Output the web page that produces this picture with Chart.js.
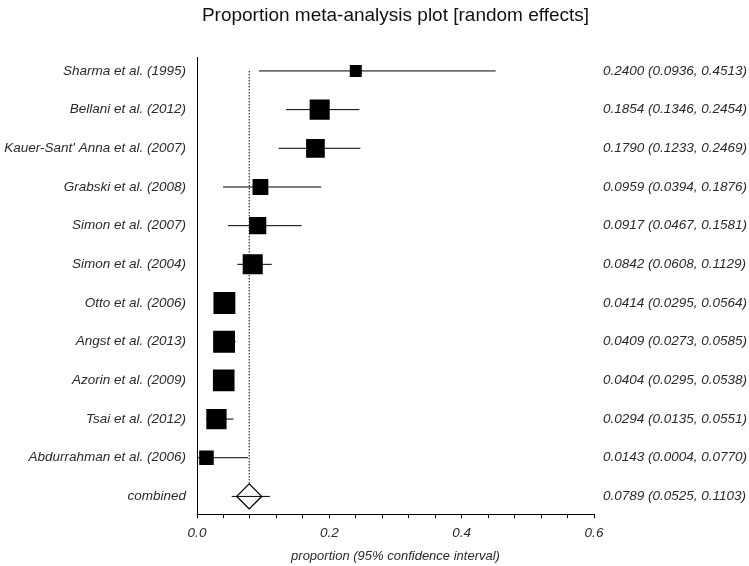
<!DOCTYPE html>
<html>
<head>
<meta charset="utf-8">
<script src="https://cdn.jsdelivr.net/npm/chart.js@4.4.1/dist/chart.umd.min.js"></script>
<style>
  html, body { margin: 0; padding: 0; background: #fff; }
  #wrap { width: 749px; height: 566px; }
</style>
</head>
<body>
<div id="wrap"><canvas id="plot" width="749" height="566"></canvas></div>
<script>
// study rows, top to bottom
const studies = [
  "Sharma et al. (1995)",
  "Bellani et al. (2012)",
  "Kauer-Sant' Anna et al. (2007)",
  "Grabski et al. (2008)",
  "Simon et al. (2007)",
  "Simon et al. (2004)",
  "Otto et al. (2006)",
  "Angst et al. (2013)",
  "Azorin et al. (2009)",
  "Tsai et al. (2012)",
  "Abdurrahman et al. (2006)"
];
const estimate = [0.2400, 0.1854, 0.1790, 0.0959, 0.0917, 0.0842, 0.0414, 0.0409, 0.0404, 0.0294, 0.0143];
const lower    = [0.0936, 0.1346, 0.1233, 0.0394, 0.0467, 0.0608, 0.0295, 0.0273, 0.0295, 0.0135, 0.0004];
const upper    = [0.4513, 0.2454, 0.2469, 0.1876, 0.1581, 0.1129, 0.0564, 0.0585, 0.0538, 0.0551, 0.0770];
// relative weights (%)
const weights  = [3.8, 10.6, 9.2, 6.6, 7.8, 10.6, 12.6, 12.6, 12.3, 10.8, 5.6];

const combinedLabel = "combined";
const combined = { est: 0.0789, lo: 0.0525, hi: 0.1103 };

const xTickValues = [0, 0.04, 0.08, 0.12, 0.16, 0.2, 0.24, 0.28, 0.32, 0.36, 0.4, 0.44, 0.48, 0.52, 0.56, 0.6];
const xMajor = [0, 0.2, 0.4, 0.6];

const rowLabels = studies.concat([combinedLabel]);
const combinedRow = studies.length;

const fmt = v => v.toFixed(4);
const rightText = estimate.map((v, i) => `${fmt(v)} (${fmt(lower[i])}, ${fmt(upper[i])})`)
  .concat([`${fmt(combined.est)} (${fmt(combined.lo)}, ${fmt(combined.hi)})`]);

const FONT = "'Liberation Sans', Arial, sans-serif";
const TEXT = "#2a2a2a";

// box side in px grows with sqrt(weight)
const boxRadius = weights.map(w => 6.16 * Math.sqrt(w) / Math.SQRT2);

const ciSets = lower.map((lo, i) => ({
  data: [{ x: lo, y: i }, { x: upper[i], y: i }],
  showLine: true,
  borderColor: "#000",
  borderWidth: 1,
  pointRadius: 0,
  order: 2
}));

// labels on the right, aligned to the y scale
const rightLabels = {
  id: "rightLabels",
  afterDraw(chart) {
    const { ctx, chartArea, scales } = chart;
    ctx.save();
    ctx.font = `italic 13.5px ${FONT}`;
    ctx.fillStyle = TEXT;
    ctx.textAlign = "left";
    ctx.textBaseline = "middle";
    rightText.forEach((t, i) => {
      ctx.fillText(t, chartArea.right + 9, scales.y.getPixelForValue(i));
    });
    ctx.restore();
  }
};

new Chart(document.getElementById("plot"), {
  type: "scatter",
  data: {
    datasets: [
      {
        data: estimate.map((v, i) => ({ x: v, y: i })),
        pointStyle: "rect",
        pointRadius: boxRadius,
        backgroundColor: "#000",
        borderWidth: 0,
        order: 0
      },
      {
        data: [{ x: combined.est, y: combinedRow }],
        pointStyle: "rectRot",
        pointRadius: 12.5,
        backgroundColor: "rgba(0,0,0,0)",
        borderColor: "#000",
        borderWidth: 1.3,
        order: 0
      },
      ...ciSets,
      {
        data: [{ x: combined.lo, y: combinedRow }, { x: combined.hi, y: combinedRow }],
        showLine: true,
        borderColor: "#000",
        borderWidth: 1,
        pointRadius: 0,
        order: 2
      },
      {
        // pooled estimate reference line, stops at the diamond's top
        data: [{ x: combined.est, y: 0 }, { x: combined.est, y: combinedRow - 0.34 }],
        showLine: true,
        borderColor: "#000",
        borderWidth: 1,
        borderDash: [1.5, 1.5],
        pointRadius: 0,
        order: 3
      }
    ]
  },
  options: {
    responsive: false,
    animation: false,
    events: [],
    layout: { padding: { left: 0, right: 155, top: 0, bottom: 0 } },
    plugins: {
      legend: { display: false },
      tooltip: { enabled: false },
      title: {
        display: true,
        fullSize: false,
        text: "Proportion meta-analysis plot [random effects]",
        color: "#111",
        font: { family: FONT, size: 19, weight: "normal" },
        padding: { top: 4, bottom: 31 }
      }
    },
    scales: {
      x: {
        type: "linear",
        min: 0,
        max: 0.6,
        afterBuildTicks: s => { s.ticks = xTickValues.map(v => ({ value: v })); },
        grid: { drawOnChartArea: false, drawTicks: true, tickLength: 4, color: "#000" },
        border: { display: true, color: "#000", width: 1 },
        ticks: {
          autoSkip: false,
          maxRotation: 0,
          padding: 7,
          color: TEXT,
          font: { family: FONT, size: 13.5, style: "italic" },
          callback: v => xMajor.some(m => Math.abs(m - v) < 1e-9) ? v.toFixed(1) : ""
        },
        title: {
          display: true,
          text: "proportion (95% confidence interval)",
          color: TEXT,
          font: { family: FONT, size: 13, style: "italic" },
          padding: { top: 0, bottom: 2 }
        }
      },
      y: {
        type: "linear",
        reverse: true,
        min: -0.34,
        max: 11.46,
        afterBuildTicks: s => { s.ticks = rowLabels.map((_, i) => ({ value: i })); },
        afterFit: s => { s.width = 197; },
        grid: { display: false, drawTicks: false },
        border: { display: true, color: "#000", width: 1 },
        ticks: {
          autoSkip: false,
          padding: 11,
          color: TEXT,
          font: { family: FONT, size: 13.5, style: "italic" },
          callback: v => rowLabels[v] ?? ""
        }
      }
    }
  },
  plugins: [rightLabels]
});
</script>
</body>
</html>
